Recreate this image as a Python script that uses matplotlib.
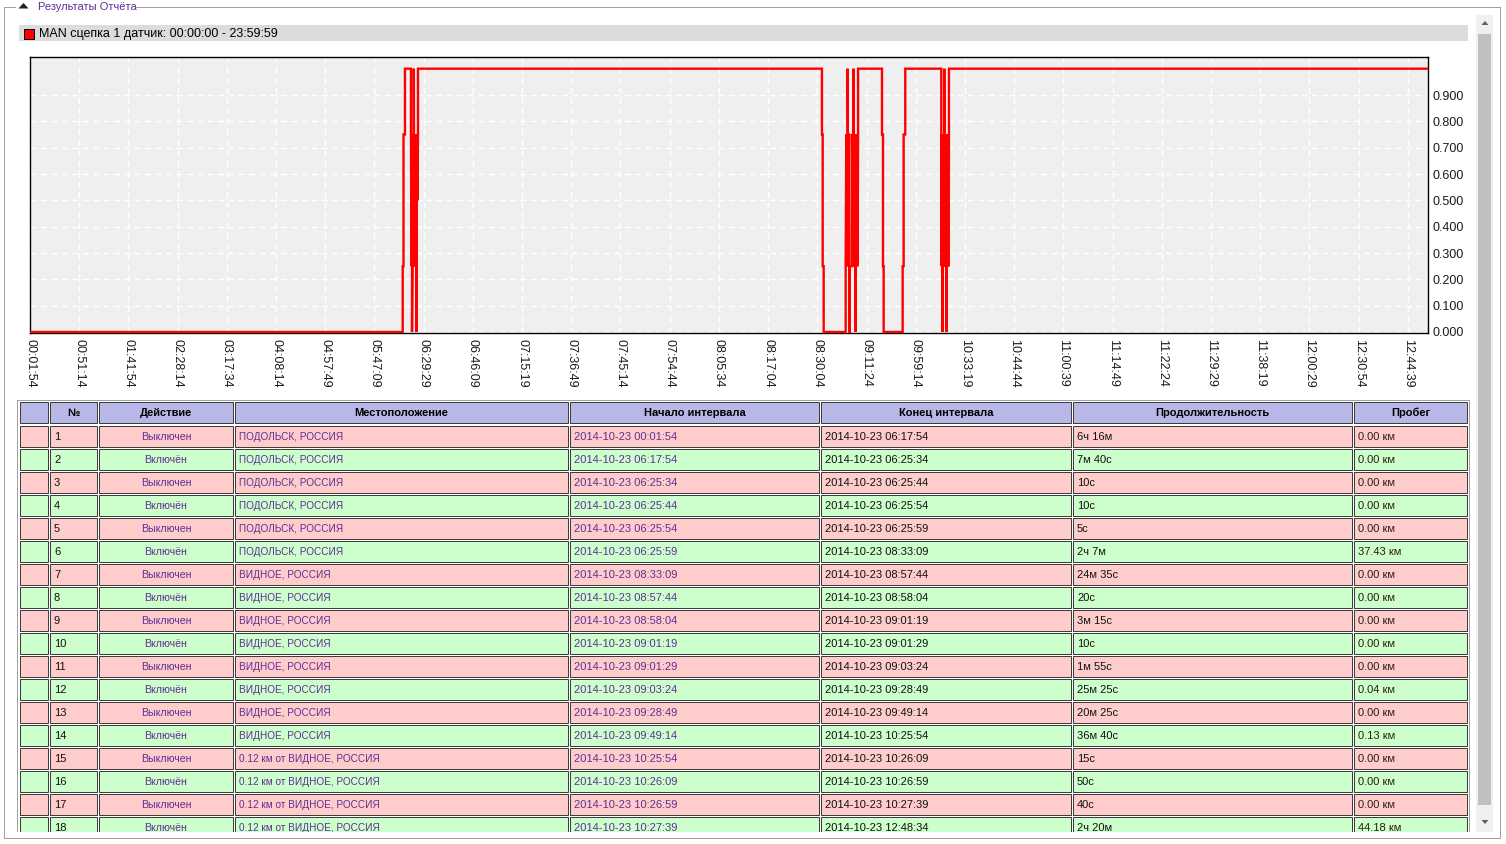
import matplotlib
matplotlib.use('Agg')
import matplotlib.pyplot as plt
from matplotlib.patches import Rectangle, Polygon

plt.rcParams['font.family'] = ['Liberation Sans', 'DejaVu Sans']

# ---------------- data ----------------
panel_title = 'Результаты Отчёта'
legend_label = 'MAN сцепка 1 датчик: 00:00:00 - 23:59:59'

tick_labels = ['00:01:54', '00:51:14', '01:41:54', '02:28:14', '03:17:34', '04:08:14',
               '04:57:49', '05:47:09', '06:29:29', '06:46:09', '07:15:19', '07:36:49',
               '07:45:14', '07:54:44', '08:05:34', '08:17:04', '08:30:04', '09:11:24',
               '09:59:14', '10:33:19', '10:44:44', '11:00:39', '11:14:49', '11:22:24',
               '11:29:29', '11:38:19', '12:00:29', '12:30:54', '12:44:39']

y_ticks = [0.0, 0.1, 0.2, 0.3, 0.4, 0.5, 0.6, 0.7, 0.8, 0.9]

# sensor signal (position on the sample axis, value)
line_x = [0.0, 7.574, 7.574, 7.590, 7.590, 7.620, 7.620, 7.742, 7.742, 7.753, 7.763, 7.763,
          7.773, 7.783, 7.793, 7.800, 7.800, 7.803, 7.813, 7.824, 7.834, 7.844, 7.854, 7.854,
          7.864, 7.874, 7.885, 7.885,
          16.094, 16.094, 16.109, 16.109, 16.129, 16.129, 16.576, 16.576, 16.588, 16.602,
          16.616, 16.616, 16.620, 16.629, 16.643, 16.650, 16.650, 16.660, 16.660, 16.704,
          16.711, 16.718, 16.724, 16.730, 16.737, 16.737, 16.740, 16.744, 16.751, 16.758,
          16.764, 16.770, 16.778, 16.780, 16.785, 16.792, 16.799, 16.805, 16.811, 16.818,
          16.828, 16.828,
          17.314, 17.314, 17.334, 17.334, 17.348, 17.348, 17.734, 17.734, 17.754, 17.754,
          17.787, 17.787, 18.519, 18.519, 18.525, 18.532, 18.539, 18.547, 18.549, 18.555,
          18.562, 18.569, 18.575, 18.580, 18.580, 18.583, 18.590, 18.596, 18.603, 18.610,
          18.617, 18.623, 18.629, 18.631, 18.637, 18.644, 18.650, 18.657, 18.663, 18.669,
          18.675, 18.675, 28.41]
line_y = [0.0, 0.0, 0.25, 0.25, 0.75, 0.75, 1.0, 1.0, 0.75, 0.25, 0.75, 0.0,
          0.25, 0.75, 0.25, 0.75, 1.0, 0.75, 0.25, 0.75, 0.25, 0.75, 0.0, 0.5,
          0.75, 0.5, 0.75, 1.0,
          1.0, 0.75, 0.75, 0.25, 0.25, 0.0, 0.0, 0.25, 0.75, 0.25,
          0.75, 1.0, 0.75, 0.25, 0.75, 0.75, 0.0, 0.0, 0.25, 0.25,
          0.75, 0.25, 0.75, 0.25, 0.75, 1.0, 0.75, 0.25, 0.75, 0.25,
          0.75, 0.25, 0.0, 0.25, 0.75, 0.25, 0.75, 0.25, 0.75, 0.25,
          0.75, 1.0,
          1.0, 0.75, 0.75, 0.25, 0.25, 0.0, 0.0, 0.25, 0.25, 0.75,
          0.75, 1.0, 1.0, 0.75, 0.25, 0.75, 0.25, 0.0, 0.25, 0.75,
          0.25, 0.75, 0.25, 0.75, 1.0, 0.75, 0.25, 0.75, 0.25, 0.75,
          0.25, 0.75, 0.0, 0.25, 0.75, 0.25, 0.75, 0.25, 0.75, 0.25,
          0.75, 1.0, 1.0]

headers = ['', '№', 'Действие', 'Местоположение', 'Начало интервала',
           'Конец интервала', 'Продолжительность', 'Пробег']
row_nums = ['1', '2', '3', '4', '5', '6', '7', '8', '9', '10', '11', '12', '13', '14',
            '15', '16', '17', '18']
actions = ['Выключен', 'Включён'] * 9
locations = (['ПОДОЛЬСК, РОССИЯ'] * 6 + ['ВИДНОЕ, РОССИЯ'] * 8 +
             ['0.12 км от ВИДНОЕ, РОССИЯ'] * 4)
starts = ['2014-10-23 00:01:54', '2014-10-23 06:17:54', '2014-10-23 06:25:34',
          '2014-10-23 06:25:44', '2014-10-23 06:25:54', '2014-10-23 06:25:59',
          '2014-10-23 08:33:09', '2014-10-23 08:57:44', '2014-10-23 08:58:04',
          '2014-10-23 09:01:19', '2014-10-23 09:01:29', '2014-10-23 09:03:24',
          '2014-10-23 09:28:49', '2014-10-23 09:49:14', '2014-10-23 10:25:54',
          '2014-10-23 10:26:09', '2014-10-23 10:26:59', '2014-10-23 10:27:39']
ends = ['2014-10-23 06:17:54', '2014-10-23 06:25:34', '2014-10-23 06:25:44',
        '2014-10-23 06:25:54', '2014-10-23 06:25:59', '2014-10-23 08:33:09',
        '2014-10-23 08:57:44', '2014-10-23 08:58:04', '2014-10-23 09:01:19',
        '2014-10-23 09:01:29', '2014-10-23 09:03:24', '2014-10-23 09:28:49',
        '2014-10-23 09:49:14', '2014-10-23 10:25:54', '2014-10-23 10:26:09',
        '2014-10-23 10:26:59', '2014-10-23 10:27:39', '2014-10-23 12:48:34']
durations = ['6ч 16м', '7м 40с', '10с', '10с', '5с', '2ч 7м', '24м 35с', '20с', '3м 15с',
             '10с', '1м 55с', '25м 25с', '20м 25с', '36м 40с', '15с', '50с', '40с', '2ч 20м']
mileage = ['0.00 км', '0.00 км', '0.00 км', '0.00 км', '0.00 км', '37.43 км', '0.00 км',
           '0.00 км', '0.00 км', '0.00 км', '0.00 км', '0.04 км', '0.00 км', '0.13 км',
           '0.00 км', '0.00 км', '0.00 км', '44.18 км']

# ---------------- figure ----------------
W, H = 1506, 844
fig = plt.figure(figsize=(W / 100, H / 100), dpi=100)
fig.patch.set_facecolor('white')

bg = fig.add_axes([0, 0, 1, 1])
bg.set_xlim(0, W)
bg.set_ylim(H, 0)
bg.axis('off')

PX = 0.72  # one pixel in points
frame_c = '#a0a0a0'
purple = '#5f2f96'

# panel frame (group box)
bg.plot([4.5, 4.5], [6.5, 837.5], color=frame_c, lw=PX)
bg.plot([4.5, 1500.5], [837.5, 837.5], color=frame_c, lw=PX)
bg.plot([1500.5, 1500.5], [6.5, 837.5], color=frame_c, lw=PX)
bg.plot([4.5, 15], [6.5, 6.5], color=frame_c, lw=PX)
bg.plot([136, 1500.5], [6.5, 6.5], color=frame_c, lw=PX)
bg.add_patch(Polygon([[18.5, 8.5], [28.5, 8.5], [23.5, 3.0]], closed=True,
                     facecolor='#202020', edgecolor='none'))
bg.text(38, 7.5, panel_title, fontsize=8, color=purple, ha='left', va='center')

# legend band
bg.add_patch(Rectangle((19, 25), 1449, 16, facecolor='#dcdcdc', edgecolor='none'))
bg.add_patch(Rectangle((24.5, 28.5), 10, 10, facecolor='#ff0000', edgecolor='black', lw=PX))
bg.text(39, 33.5, legend_label, fontsize=9, color='black', ha='left', va='center')

# scrollbar
bg.add_patch(Rectangle((1476, 15), 17, 817, facecolor='#f0f0f0', edgecolor='none'))
bg.add_patch(Rectangle((1478, 34), 13, 771, facecolor='#c0c0c0', edgecolor='none'))
bg.add_patch(Polygon([[1481.5, 25], [1488.5, 25], [1485, 21]], closed=True,
                     facecolor='#606060', edgecolor='none'))
bg.add_patch(Polygon([[1481.5, 820], [1488.5, 820], [1485, 824]], closed=True,
                     facecolor='#606060', edgecolor='none'))

# ---------------- table ----------------
col_edges = [(20, 48), (50, 97), (99, 233), (235, 568), (570, 819), (821, 1071),
             (1073, 1352), (1354, 1467)]
clip_y = 832
bg.plot([17.5, 1469.5], [399.5, 399.5], color=frame_c, lw=PX)
bg.plot([17.5, 17.5], [399.5, clip_y], color=frame_c, lw=PX)
bg.plot([1469.5, 1469.5], [399.5, clip_y], color=frame_c, lw=PX)

cell_edge = '#3c3c3c'
hdr_top, hdr_h = 401, 21
for (x0, x1), h in zip(col_edges, headers):
    bg.add_patch(Rectangle((x0 + 0.5, hdr_top + 0.5), x1 - x0, hdr_h, facecolor='#b8b8e8',
                           edgecolor=cell_edge, lw=PX))
    if h:
        bg.text((x0 + x1) / 2, hdr_top + 15, h, fontsize=8, fontweight='bold',
                color='black', ha='center', va='baseline')

for i in range(len(row_nums)):
    top = 425 + 23 * i
    h = min(21, clip_y - top - 0.5)
    fill = '#ffcccc' if actions[i] == 'Выключен' else '#ccffcc'
    for (x0, x1) in col_edges:
        bg.add_patch(Rectangle((x0 + 0.5, top + 0.5), x1 - x0, h, facecolor=fill,
                               edgecolor=cell_edge, lw=PX))
    yb = top + 15
    cells = [
        (col_edges[1][0] + 4, row_nums[i], 'left', '#111111', 8),
        ((col_edges[2][0] + col_edges[2][1]) / 2, actions[i], 'center', purple, 7.6),
        (col_edges[3][0] + 4, locations[i], 'left', purple, 7.2),
        (col_edges[4][0] + 4, starts[i], 'left', purple, 8),
        (col_edges[5][0] + 4, ends[i], 'left', '#111111', 8),
        (col_edges[6][0] + 4, durations[i], 'left', '#111111', 8),
        (col_edges[7][0] + 4, mileage[i], 'left', '#2a2010', 8),
    ]
    for x, s, ha, c, fs in cells:
        bg.text(x, yb, s, fontsize=fs, color=c, ha=ha, va='baseline')
# white cover below the visible area of the scroll pane
bg.add_patch(Rectangle((5.5, clip_y), 1470, 5, facecolor='white', edgecolor='none', zorder=5))

# ---------------- chart ----------------
ax_l, ax_r, ax_t, ax_b = 30, 1428, 57, 333
ax = fig.add_axes([ax_l / W, (H - ax_b) / H, (ax_r - ax_l) / W, (ax_b - ax_t) / H])
ax.set_facecolor('#efefef')
ax.plot(line_x, line_y, color='#ff0000', lw=1.7, solid_joinstyle='miter', zorder=3)
ax.set_xlim(0, 28.41)
ax.set_ylim(-0.0038, 1.0444)
ax.set_xticks(range(len(tick_labels)))
ax.set_xticklabels(tick_labels, rotation=270, fontsize=9, color='#1a1a1a')
ax.set_yticks(y_ticks)
ax.set_yticklabels(['%.3f' % v for v in y_ticks], fontsize=9, color='#1a1a1a')
ax.yaxis.tick_right()
ax.tick_params(axis='x', length=0, pad=4)
ax.tick_params(axis='y', length=0, pad=3)
ax.grid(True, color='white', lw=1.0, linestyle=(0, (4.5, 3)))
ax.set_axisbelow(True)
for s in ax.spines.values():
    s.set_color('black')
    s.set_linewidth(1.0)

fig.savefig('out.png', dpi=100, facecolor='white')
